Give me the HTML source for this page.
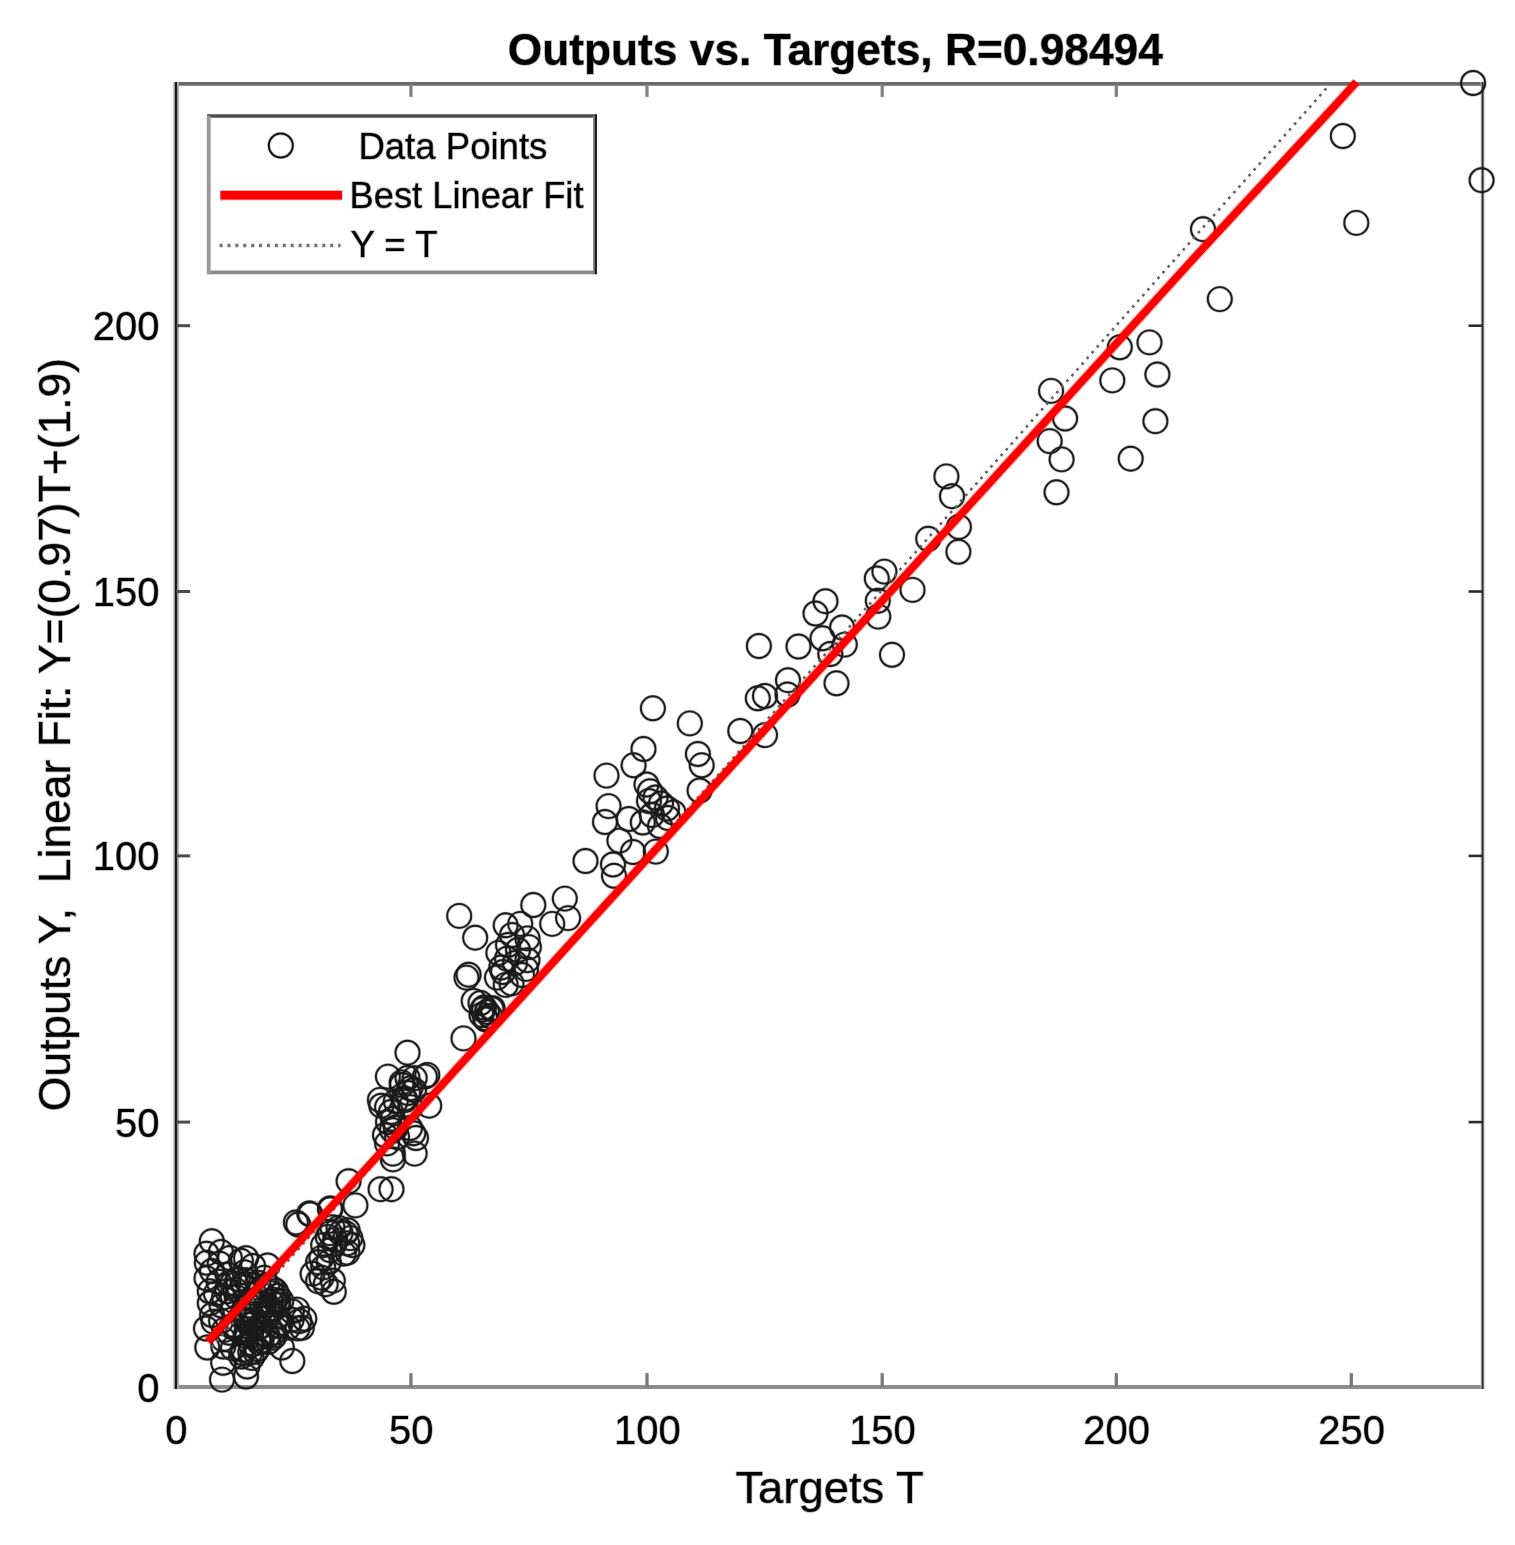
<!DOCTYPE html>
<html lang="en"><head><meta charset="utf-8"><title>Outputs vs. Targets</title>
<style>html,body{margin:0;padding:0;background:#fff}svg{display:block}text{font-family:"Liberation Sans",sans-serif;fill:#000;stroke:rgba(0,0,0,0.3);stroke-width:1.5px;paint-order:stroke}</style></head><body>
<svg width="1515" height="1545" viewBox="0 0 1515 1545">
<rect width="1515" height="1545" fill="#fff"/>
<g fill="none" stroke-linecap="butt">
<line x1="174.1" y1="83.9" x2="1484.1" y2="83.9" stroke="#6a6a6a" stroke-width="3.6"/>
<line x1="174.1" y1="1387.1" x2="1484.1" y2="1387.1" stroke="#8c8c8c" stroke-width="4"/>
<line x1="174.1" y1="82.1" x2="174.1" y2="1389.1" stroke="#bbb" stroke-width="1.6"/>
<line x1="178.0" y1="82.1" x2="178.0" y2="1389.1" stroke="#aaa" stroke-width="2"/>
<line x1="175.9" y1="82.1" x2="175.9" y2="1389.1" stroke="#1a1a1a" stroke-width="2.3"/>
<line x1="1482.6" y1="82.1" x2="1482.6" y2="1389.1" stroke="#bdbdbd" stroke-width="3.8"/>
<line x1="1482.6" y1="82.1" x2="1482.6" y2="1389.1" stroke="#2e2e2e" stroke-width="1.8"/>
<line x1="410.9" y1="1387.1" x2="410.9" y2="1373.1" stroke="#7a7a7a" stroke-width="3.3"/>
<line x1="410.9" y1="83.9" x2="410.9" y2="96.9" stroke="#808080" stroke-width="3.2"/>
<line x1="647.0" y1="1387.1" x2="647.0" y2="1373.1" stroke="#7a7a7a" stroke-width="3.3"/>
<line x1="647.0" y1="83.9" x2="647.0" y2="96.9" stroke="#808080" stroke-width="3.2"/>
<line x1="882.2" y1="1387.1" x2="882.2" y2="1373.1" stroke="#7a7a7a" stroke-width="3.3"/>
<line x1="882.2" y1="83.9" x2="882.2" y2="96.9" stroke="#808080" stroke-width="3.2"/>
<line x1="1116.3" y1="1387.1" x2="1116.3" y2="1373.1" stroke="#7a7a7a" stroke-width="3.3"/>
<line x1="1116.3" y1="83.9" x2="1116.3" y2="96.9" stroke="#808080" stroke-width="3.2"/>
<line x1="1351.3" y1="1387.1" x2="1351.3" y2="1373.1" stroke="#7a7a7a" stroke-width="3.3"/>
<line x1="176.1" y1="1122.1" x2="190.1" y2="1122.1" stroke="#4a4a4a" stroke-width="3.0"/>
<line x1="1482.6" y1="1122.1" x2="1468.6" y2="1122.1" stroke="#2a2a2a" stroke-width="2.6"/>
<line x1="176.1" y1="855.9" x2="190.1" y2="855.9" stroke="#4a4a4a" stroke-width="3.0"/>
<line x1="1482.6" y1="855.9" x2="1468.6" y2="855.9" stroke="#2a2a2a" stroke-width="2.6"/>
<line x1="176.1" y1="591.5" x2="190.1" y2="591.5" stroke="#4a4a4a" stroke-width="3.0"/>
<line x1="1482.6" y1="591.5" x2="1468.6" y2="591.5" stroke="#2a2a2a" stroke-width="2.6"/>
<line x1="176.1" y1="325.7" x2="190.1" y2="325.7" stroke="#4a4a4a" stroke-width="3.0"/>
<line x1="1482.6" y1="325.7" x2="1468.6" y2="325.7" stroke="#2a2a2a" stroke-width="2.6"/>
</g>
<g>
<defs><g id="pts">
<circle cx="1473.1" cy="83.0" r="12.0"/>
<circle cx="1481.6" cy="180.2" r="12.0"/>
<circle cx="1342.8" cy="136.0" r="12.0"/>
<circle cx="1356.3" cy="222.9" r="12.0"/>
<circle cx="1203.0" cy="229.2" r="12.0"/>
<circle cx="1219.8" cy="299.1" r="12.0"/>
<circle cx="1149.5" cy="342.4" r="12.0"/>
<circle cx="1119.8" cy="347.3" r="12.0"/>
<circle cx="1157.4" cy="374.5" r="12.0"/>
<circle cx="1112.3" cy="380.4" r="12.0"/>
<circle cx="1051.1" cy="390.9" r="12.0"/>
<circle cx="1155.4" cy="421.2" r="12.0"/>
<circle cx="1065.1" cy="418.5" r="12.0"/>
<circle cx="1049.7" cy="441.1" r="12.0"/>
<circle cx="1061.6" cy="459.4" r="12.0"/>
<circle cx="1130.7" cy="458.7" r="12.0"/>
<circle cx="1056.5" cy="492.3" r="12.0"/>
<circle cx="946.4" cy="476.4" r="12.0"/>
<circle cx="952.0" cy="496.2" r="12.0"/>
<circle cx="958.9" cy="526.9" r="12.0"/>
<circle cx="928.2" cy="538.8" r="12.0"/>
<circle cx="958.4" cy="551.8" r="12.0"/>
<circle cx="884.4" cy="571.6" r="12.0"/>
<circle cx="876.8" cy="578.5" r="12.0"/>
<circle cx="912.5" cy="589.9" r="12.0"/>
<circle cx="877.8" cy="600.8" r="12.0"/>
<circle cx="878.3" cy="616.6" r="12.0"/>
<circle cx="892.0" cy="654.8" r="12.0"/>
<circle cx="825.5" cy="601.2" r="12.0"/>
<circle cx="815.5" cy="613.5" r="12.0"/>
<circle cx="842.1" cy="627.5" r="12.0"/>
<circle cx="822.5" cy="638.3" r="12.0"/>
<circle cx="844.8" cy="644.6" r="12.0"/>
<circle cx="830.3" cy="654.0" r="12.0"/>
<circle cx="836.5" cy="683.3" r="12.0"/>
<circle cx="798.5" cy="646.5" r="12.0"/>
<circle cx="758.9" cy="646.0" r="12.0"/>
<circle cx="788.0" cy="680.2" r="12.0"/>
<circle cx="787.5" cy="694.5" r="12.0"/>
<circle cx="765.0" cy="696.0" r="12.0"/>
<circle cx="757.8" cy="698.3" r="12.0"/>
<circle cx="740.3" cy="731.0" r="12.0"/>
<circle cx="765.0" cy="735.1" r="12.0"/>
<circle cx="689.8" cy="723.4" r="12.0"/>
<circle cx="697.9" cy="754.0" r="12.0"/>
<circle cx="701.7" cy="765.3" r="12.0"/>
<circle cx="699.6" cy="790.5" r="12.0"/>
<circle cx="652.9" cy="708.3" r="12.0"/>
<circle cx="643.5" cy="749.0" r="12.0"/>
<circle cx="633.6" cy="765.3" r="12.0"/>
<circle cx="606.5" cy="775.6" r="12.0"/>
<circle cx="646.5" cy="784.5" r="12.0"/>
<circle cx="650.0" cy="791.2" r="12.0"/>
<circle cx="655.5" cy="797.5" r="12.0"/>
<circle cx="661.0" cy="803.5" r="12.0"/>
<circle cx="667.0" cy="808.5" r="12.0"/>
<circle cx="673.5" cy="812.5" r="12.0"/>
<circle cx="649.0" cy="801.0" r="12.0"/>
<circle cx="608.6" cy="806.1" r="12.0"/>
<circle cx="605.0" cy="822.0" r="12.0"/>
<circle cx="628.8" cy="819.0" r="12.0"/>
<circle cx="642.8" cy="822.5" r="12.0"/>
<circle cx="619.4" cy="840.6" r="12.0"/>
<circle cx="585.5" cy="861.0" r="12.0"/>
<circle cx="613.0" cy="864.5" r="12.0"/>
<circle cx="614.0" cy="875.8" r="12.0"/>
<circle cx="633.0" cy="852.0" r="12.0"/>
<circle cx="655.8" cy="851.6" r="12.0"/>
<circle cx="564.8" cy="898.6" r="12.0"/>
<circle cx="533.3" cy="905.0" r="12.0"/>
<circle cx="568.1" cy="918.1" r="12.0"/>
<circle cx="552.2" cy="923.9" r="12.0"/>
<circle cx="459.2" cy="915.9" r="12.0"/>
<circle cx="475.2" cy="937.7" r="12.0"/>
<circle cx="505.7" cy="925.3" r="12.0"/>
<circle cx="520.2" cy="923.9" r="12.0"/>
<circle cx="527.5" cy="938.4" r="12.0"/>
<circle cx="528.9" cy="947.1" r="12.0"/>
<circle cx="527.5" cy="960.2" r="12.0"/>
<circle cx="526.0" cy="968.9" r="12.0"/>
<circle cx="498.4" cy="952.9" r="12.0"/>
<circle cx="507.1" cy="958.7" r="12.0"/>
<circle cx="501.3" cy="967.5" r="12.0"/>
<circle cx="468.6" cy="974.7" r="12.0"/>
<circle cx="466.5" cy="977.6" r="12.0"/>
<circle cx="497.0" cy="977.6" r="12.0"/>
<circle cx="505.7" cy="984.9" r="12.0"/>
<circle cx="511.5" cy="983.4" r="12.0"/>
<circle cx="473.7" cy="1000.9" r="12.0"/>
<circle cx="482.4" cy="1009.6" r="12.0"/>
<circle cx="485.3" cy="1018.3" r="12.0"/>
<circle cx="492.6" cy="1008.1" r="12.0"/>
<circle cx="463.5" cy="1038.4" r="12.0"/>
<circle cx="427.3" cy="1074.9" r="12.0"/>
<circle cx="407.5" cy="1052.7" r="12.0"/>
<circle cx="387.9" cy="1076.6" r="12.0"/>
<circle cx="424.9" cy="1076.6" r="12.0"/>
<circle cx="414.7" cy="1078.1" r="12.0"/>
<circle cx="407.5" cy="1078.0" r="12.0"/>
<circle cx="401.7" cy="1082.4" r="12.0"/>
<circle cx="410.4" cy="1088.3" r="12.0"/>
<circle cx="379.9" cy="1099.9" r="12.0"/>
<circle cx="381.3" cy="1105.7" r="12.0"/>
<circle cx="387.1" cy="1107.1" r="12.0"/>
<circle cx="395.8" cy="1101.3" r="12.0"/>
<circle cx="404.6" cy="1098.4" r="12.0"/>
<circle cx="410.4" cy="1107.1" r="12.0"/>
<circle cx="429.2" cy="1105.7" r="12.0"/>
<circle cx="392.9" cy="1118.8" r="12.0"/>
<circle cx="395.8" cy="1127.5" r="12.0"/>
<circle cx="387.1" cy="1143.4" r="12.0"/>
<circle cx="413.3" cy="1133.3" r="12.0"/>
<circle cx="414.7" cy="1153.6" r="12.0"/>
<circle cx="392.9" cy="1153.6" r="12.0"/>
<circle cx="392.9" cy="1159.4" r="12.0"/>
<circle cx="380.6" cy="1189.2" r="12.0"/>
<circle cx="391.5" cy="1189.2" r="12.0"/>
<circle cx="348.6" cy="1181.2" r="12.0"/>
<circle cx="355.4" cy="1205.4" r="12.0"/>
<circle cx="330.2" cy="1209.2" r="12.0"/>
<circle cx="309.3" cy="1213.5" r="12.0"/>
<circle cx="512.0" cy="935.0" r="12.0"/>
<circle cx="518.0" cy="950.0" r="12.0"/>
<circle cx="522.0" cy="975.0" r="12.0"/>
<circle cx="508.0" cy="945.0" r="12.0"/>
<circle cx="515.0" cy="963.0" r="12.0"/>
<circle cx="503.0" cy="972.0" r="12.0"/>
<circle cx="480.5" cy="1003.0" r="12.0"/>
<circle cx="484.0" cy="1007.5" r="12.0"/>
<circle cx="487.0" cy="1012.0" r="12.0"/>
<circle cx="490.0" cy="1016.0" r="12.0"/>
<circle cx="486.0" cy="1019.5" r="12.0"/>
<circle cx="491.5" cy="1009.0" r="12.0"/>
<circle cx="481.5" cy="1015.0" r="12.0"/>
<circle cx="388.0" cy="1122.0" r="12.0"/>
<circle cx="392.0" cy="1130.0" r="12.0"/>
<circle cx="385.0" cy="1135.0" r="12.0"/>
<circle cx="397.0" cy="1137.0" r="12.0"/>
<circle cx="391.0" cy="1112.0" r="12.0"/>
<circle cx="410.0" cy="1128.0" r="12.0"/>
<circle cx="416.0" cy="1138.0" r="12.0"/>
<circle cx="402.0" cy="1085.0" r="12.0"/>
<circle cx="408.0" cy="1093.0" r="12.0"/>
<circle cx="414.0" cy="1090.0" r="12.0"/>
<circle cx="405.0" cy="1100.0" r="12.0"/>
<circle cx="668.0" cy="818.0" r="12.0"/>
<circle cx="660.0" cy="826.0" r="12.0"/>
<circle cx="652.0" cy="815.0" r="12.0"/>
<circle cx="211.8" cy="1241.2" r="12.0"/>
<circle cx="206.5" cy="1253.7" r="12.0"/>
<circle cx="220.9" cy="1252.0" r="12.0"/>
<circle cx="246.0" cy="1258.2" r="12.0"/>
<circle cx="267.6" cy="1265.5" r="12.0"/>
<circle cx="212.0" cy="1271.0" r="12.0"/>
<circle cx="244.6" cy="1272.3" r="12.0"/>
<circle cx="246.2" cy="1280.2" r="12.0"/>
<circle cx="209.8" cy="1291.3" r="12.0"/>
<circle cx="227.2" cy="1291.3" r="12.0"/>
<circle cx="235.1" cy="1289.7" r="12.0"/>
<circle cx="209.8" cy="1303.2" r="12.0"/>
<circle cx="221.6" cy="1305.5" r="12.0"/>
<circle cx="212.1" cy="1315.0" r="12.0"/>
<circle cx="206.0" cy="1328.5" r="12.0"/>
<circle cx="207.3" cy="1347.5" r="12.0"/>
<circle cx="223.2" cy="1362.8" r="12.0"/>
<circle cx="222.0" cy="1379.6" r="12.0"/>
<circle cx="246.0" cy="1376.5" r="12.0"/>
<circle cx="247.3" cy="1366.5" r="12.0"/>
<circle cx="292.3" cy="1361.0" r="12.0"/>
<circle cx="281.8" cy="1347.5" r="12.0"/>
<circle cx="304.3" cy="1318.8" r="12.0"/>
<circle cx="301.8" cy="1327.8" r="12.0"/>
<circle cx="297.0" cy="1309.6" r="12.0"/>
<circle cx="333.8" cy="1291.8" r="12.0"/>
<circle cx="295.9" cy="1222.5" r="12.0"/>
<circle cx="298.3" cy="1224.5" r="12.0"/>
<circle cx="310.3" cy="1214.2" r="12.0"/>
<circle cx="330.1" cy="1208.5" r="12.0"/>
<circle cx="330.1" cy="1233.1" r="12.0"/>
<circle cx="338.6" cy="1227.9" r="12.0"/>
<circle cx="345.5" cy="1233.1" r="12.0"/>
<circle cx="335.2" cy="1239.9" r="12.0"/>
<circle cx="347.2" cy="1243.3" r="12.0"/>
<circle cx="352.4" cy="1245.1" r="12.0"/>
<circle cx="323.2" cy="1245.1" r="12.0"/>
<circle cx="330.1" cy="1250.2" r="12.0"/>
<circle cx="343.8" cy="1253.6" r="12.0"/>
<circle cx="321.5" cy="1257.9" r="12.0"/>
<circle cx="318.1" cy="1262.2" r="12.0"/>
<circle cx="323.2" cy="1267.4" r="12.0"/>
<circle cx="321.5" cy="1277.7" r="12.0"/>
<circle cx="318.1" cy="1281.1" r="12.0"/>
<circle cx="347.4" cy="1252.6" r="12.0"/>
<circle cx="350.3" cy="1238.1" r="12.0"/>
<circle cx="213.5" cy="1321.7" r="12.0"/>
<circle cx="253.1" cy="1266.0" r="12.0"/>
<circle cx="236.2" cy="1284.3" r="12.0"/>
<circle cx="257.7" cy="1282.7" r="12.0"/>
<circle cx="233.1" cy="1309.8" r="12.0"/>
<circle cx="264.2" cy="1277.8" r="12.0"/>
<circle cx="218.6" cy="1281.7" r="12.0"/>
<circle cx="206.8" cy="1262.8" r="12.0"/>
<circle cx="219.7" cy="1263.7" r="12.0"/>
<circle cx="224.1" cy="1297.2" r="12.0"/>
<circle cx="236.8" cy="1297.4" r="12.0"/>
<circle cx="215.9" cy="1293.6" r="12.0"/>
<circle cx="228.6" cy="1283.3" r="12.0"/>
<circle cx="237.8" cy="1279.0" r="12.0"/>
<circle cx="229.8" cy="1258.0" r="12.0"/>
<circle cx="240.9" cy="1260.8" r="12.0"/>
<circle cx="227.5" cy="1274.5" r="12.0"/>
<circle cx="243.6" cy="1285.1" r="12.0"/>
<circle cx="221.1" cy="1321.1" r="12.0"/>
<circle cx="249.8" cy="1284.7" r="12.0"/>
<circle cx="206.5" cy="1278.3" r="12.0"/>
<circle cx="273.1" cy="1337.7" r="12.0"/>
<circle cx="262.2" cy="1304.7" r="12.0"/>
<circle cx="258.0" cy="1327.7" r="12.0"/>
<circle cx="246.4" cy="1311.3" r="12.0"/>
<circle cx="280.7" cy="1322.9" r="12.0"/>
<circle cx="248.7" cy="1305.5" r="12.0"/>
<circle cx="243.1" cy="1349.7" r="12.0"/>
<circle cx="252.7" cy="1324.2" r="12.0"/>
<circle cx="251.7" cy="1357.9" r="12.0"/>
<circle cx="262.5" cy="1295.0" r="12.0"/>
<circle cx="268.4" cy="1341.8" r="12.0"/>
<circle cx="241.3" cy="1356.5" r="12.0"/>
<circle cx="267.8" cy="1336.1" r="12.0"/>
<circle cx="248.5" cy="1321.8" r="12.0"/>
<circle cx="250.3" cy="1352.2" r="12.0"/>
<circle cx="251.1" cy="1345.0" r="12.0"/>
<circle cx="277.4" cy="1316.5" r="12.0"/>
<circle cx="255.5" cy="1351.9" r="12.0"/>
<circle cx="265.8" cy="1318.5" r="12.0"/>
<circle cx="277.9" cy="1301.6" r="12.0"/>
<circle cx="278.2" cy="1304.8" r="12.0"/>
<circle cx="251.3" cy="1320.9" r="12.0"/>
<circle cx="261.0" cy="1326.3" r="12.0"/>
<circle cx="277.9" cy="1295.7" r="12.0"/>
<circle cx="267.2" cy="1285.5" r="12.0"/>
<circle cx="261.1" cy="1302.0" r="12.0"/>
<circle cx="233.0" cy="1348.4" r="12.0"/>
<circle cx="274.4" cy="1299.9" r="12.0"/>
<circle cx="245.9" cy="1336.2" r="12.0"/>
<circle cx="229.3" cy="1332.8" r="12.0"/>
<circle cx="271.7" cy="1293.1" r="12.0"/>
<circle cx="258.6" cy="1338.2" r="12.0"/>
<circle cx="274.9" cy="1335.3" r="12.0"/>
<circle cx="275.7" cy="1290.8" r="12.0"/>
<circle cx="256.6" cy="1311.3" r="12.0"/>
<circle cx="281.3" cy="1301.0" r="12.0"/>
<circle cx="224.3" cy="1329.9" r="12.0"/>
<circle cx="234.6" cy="1326.5" r="12.0"/>
<circle cx="259.2" cy="1342.6" r="12.0"/>
<circle cx="264.8" cy="1300.8" r="12.0"/>
<circle cx="252.4" cy="1316.8" r="12.0"/>
<circle cx="238.4" cy="1330.4" r="12.0"/>
<circle cx="245.6" cy="1321.4" r="12.0"/>
<circle cx="271.0" cy="1309.2" r="12.0"/>
<circle cx="258.3" cy="1303.3" r="12.0"/>
<circle cx="273.5" cy="1332.8" r="12.0"/>
<circle cx="245.1" cy="1318.4" r="12.0"/>
<circle cx="231.7" cy="1326.3" r="12.0"/>
<circle cx="242.6" cy="1353.0" r="12.0"/>
<circle cx="223.1" cy="1339.1" r="12.0"/>
<circle cx="267.7" cy="1311.4" r="12.0"/>
<circle cx="223.3" cy="1346.5" r="12.0"/>
<circle cx="261.5" cy="1340.8" r="12.0"/>
<circle cx="241.6" cy="1316.2" r="12.0"/>
<circle cx="270.7" cy="1301.7" r="12.0"/>
<circle cx="250.3" cy="1301.0" r="12.0"/>
<circle cx="246.2" cy="1333.3" r="12.0"/>
<circle cx="278.6" cy="1326.1" r="12.0"/>
<circle cx="272.0" cy="1288.4" r="12.0"/>
<circle cx="260.8" cy="1290.9" r="12.0"/>
<circle cx="262.3" cy="1333.4" r="12.0"/>
<circle cx="264.4" cy="1312.1" r="12.0"/>
<circle cx="257.3" cy="1348.9" r="12.0"/>
<circle cx="249.8" cy="1312.2" r="12.0"/>
<circle cx="291.6" cy="1319.7" r="12.0"/>
<circle cx="288.2" cy="1327.6" r="12.0"/>
<circle cx="291.9" cy="1311.3" r="12.0"/>
<circle cx="297.5" cy="1328.4" r="12.0"/>
<circle cx="299.4" cy="1321.0" r="12.0"/>
<circle cx="332.4" cy="1227.3" r="12.0"/>
<circle cx="327.8" cy="1236.9" r="12.0"/>
<circle cx="340.5" cy="1232.9" r="12.0"/>
<circle cx="347.6" cy="1230.2" r="12.0"/>
<circle cx="334.4" cy="1244.1" r="12.0"/>
<circle cx="325.7" cy="1284.2" r="12.0"/>
<circle cx="312.6" cy="1273.7" r="12.0"/>
<circle cx="332.8" cy="1280.7" r="12.0"/>
<circle cx="328.8" cy="1262.1" r="12.0"/>
</g></defs>
<use href="#pts" fill="none" stroke="#000" stroke-opacity="0.24" stroke-width="3.3"/>
<use href="#pts" fill="none" stroke="#1a1a1a" stroke-width="1.9"/>
<line x1="1326.3" y1="88.4" x2="208.7" y2="1350.3" stroke="#636363" stroke-width="2.6" stroke-dasharray="2.7 4.93" fill="none"/>
<polyline points="207.9,1341.6 346.9,1189.8 582.7,929.7 992.5,479.7 1192.5,259.7 1335.0,105.6 1356.4,82.1" stroke="#fe0000" stroke-opacity="0.3" stroke-width="9.8" fill="none" stroke-linejoin="round"/>
<polyline points="207.9,1341.6 346.9,1189.8 582.7,929.7 992.5,479.7 1192.5,259.7 1335.0,105.6 1356.4,82.1" stroke="#fe0000" stroke-width="7.5" fill="none" stroke-linejoin="round"/>
<rect x="208.7" y="116.0" width="386.6" height="156.4" fill="#fff" stroke="none"/>
<g fill="none">
<circle cx="280.8" cy="145.5" r="12.0" stroke="#000" stroke-opacity="0.2" stroke-width="3.3"/>
<circle cx="280.8" cy="145.5" r="12.0" stroke="#0d0d0d" stroke-width="1.9"/>
<line x1="220" y1="195.3" x2="342.5" y2="195.3" stroke="#fe0000" stroke-opacity="0.3" stroke-width="10.6"/>
<line x1="220.5" y1="195.3" x2="342" y2="195.3" stroke="#fe0000" stroke-width="8.6"/>
<line x1="219.5" y1="245.5" x2="340.5" y2="245.5" stroke="#777" stroke-width="3.4" stroke-dasharray="3.2 4.7"/>
</g>
<text x="358.4" y="159.0" font-size="36" font-weight="normal" text-anchor="start" textLength="189.0" lengthAdjust="spacingAndGlyphs" xml:space="preserve">Data Points</text>
<text x="349.5" y="207.5" font-size="36" font-weight="normal" text-anchor="start" textLength="234.0" lengthAdjust="spacingAndGlyphs" xml:space="preserve">Best Linear Fit</text>
<text x="350.5" y="257.0" font-size="36" font-weight="normal" text-anchor="start" textLength="87.0" lengthAdjust="spacingAndGlyphs" xml:space="preserve">Y = T</text>
<text x="835.3" y="65.4" font-size="44" font-weight="bold" text-anchor="middle" textLength="655.0" lengthAdjust="spacingAndGlyphs" xml:space="preserve">Outputs vs. Targets, R=0.98494</text>
<text x="829.6" y="1503.4" font-size="44" font-weight="normal" text-anchor="middle" textLength="188.3" lengthAdjust="spacingAndGlyphs" xml:space="preserve">Targets T</text>
<g transform="translate(69.6,734.6) rotate(-90)">
<text x="0.0" y="0.0" font-size="44" font-weight="normal" text-anchor="middle" textLength="753.5" lengthAdjust="spacingAndGlyphs" xml:space="preserve">Outputs Y,  Linear Fit: Y=(0.97)T+(1.9)</text>
</g>
<text x="176.3" y="1444.0" font-size="40" font-weight="normal" text-anchor="middle" textLength="22.2" lengthAdjust="spacingAndGlyphs" xml:space="preserve">0</text>
<text x="411.2" y="1444.0" font-size="40" font-weight="normal" text-anchor="middle" textLength="44.5" lengthAdjust="spacingAndGlyphs" xml:space="preserve">50</text>
<text x="647.3" y="1444.0" font-size="40" font-weight="normal" text-anchor="middle" textLength="66.7" lengthAdjust="spacingAndGlyphs" xml:space="preserve">100</text>
<text x="882.5" y="1444.0" font-size="40" font-weight="normal" text-anchor="middle" textLength="66.7" lengthAdjust="spacingAndGlyphs" xml:space="preserve">150</text>
<text x="1116.6" y="1444.0" font-size="40" font-weight="normal" text-anchor="middle" textLength="66.7" lengthAdjust="spacingAndGlyphs" xml:space="preserve">200</text>
<text x="1351.6" y="1444.0" font-size="40" font-weight="normal" text-anchor="middle" textLength="66.7" lengthAdjust="spacingAndGlyphs" xml:space="preserve">250</text>
<text x="159.5" y="1401.7" font-size="40" font-weight="normal" text-anchor="end" textLength="22.2" lengthAdjust="spacingAndGlyphs" xml:space="preserve">0</text>
<text x="159.5" y="1136.5" font-size="40" font-weight="normal" text-anchor="end" textLength="44.5" lengthAdjust="spacingAndGlyphs" xml:space="preserve">50</text>
<text x="159.5" y="870.3" font-size="40" font-weight="normal" text-anchor="end" textLength="66.7" lengthAdjust="spacingAndGlyphs" xml:space="preserve">100</text>
<text x="159.5" y="605.9" font-size="40" font-weight="normal" text-anchor="end" textLength="66.7" lengthAdjust="spacingAndGlyphs" xml:space="preserve">150</text>
<text x="159.5" y="340.1" font-size="40" font-weight="normal" text-anchor="end" textLength="66.7" lengthAdjust="spacingAndGlyphs" xml:space="preserve">200</text>
</g>
<g fill="none">
<line x1="207.2" y1="116.0" x2="596.8" y2="116.0" stroke="#4d4d4d" stroke-width="3.6"/>
<line x1="207.2" y1="272.4" x2="596.8" y2="272.4" stroke="#8a8a8a" stroke-width="3.8"/>
<line x1="208.7" y1="116.0" x2="208.7" y2="274.2" stroke="#999" stroke-width="3.8"/>
<line x1="594.0" y1="116.0" x2="594.0" y2="274.2" stroke="#858585" stroke-width="2"/>
<line x1="595.9" y1="114.4" x2="595.9" y2="274.2" stroke="#1a1a1a" stroke-width="2.1"/>
</g>
</svg></body></html>
